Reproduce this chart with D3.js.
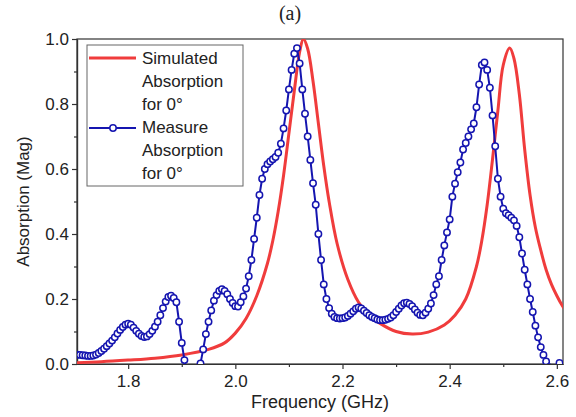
<!DOCTYPE html>
<html>
<head>
<meta charset="utf-8">
<script src="https://cdn.jsdelivr.net/npm/d3@7"></script>
<style>
  body { margin: 0; background: #fff; }
  text { font-family: "Liberation Sans", Arial, sans-serif; fill: #222; }
</style>
</head>
<body>
<div class="canvas"></div>
<script>
// simulated absorption (red line)
const simFreq = [1.70, 1.75, 1.80, 1.85, 1.90, 1.95, 1.98, 2.00, 2.02, 2.04, 2.06, 2.07, 2.08, 2.09,
  2.10, 2.11, 2.12, 2.127, 2.135, 2.145, 2.155, 2.165, 2.175, 2.19, 2.21, 2.23, 2.25, 2.27, 2.30,
  2.33, 2.36, 2.39, 2.41, 2.43, 2.45, 2.46, 2.47, 2.48, 2.49, 2.50, 2.512, 2.52, 2.53, 2.54, 2.55,
  2.56, 2.57, 2.58, 2.59, 2.60, 2.61, 2.62];
const simAbs = [0.004, 0.007, 0.012, 0.018, 0.028, 0.045, 0.065, 0.095, 0.14, 0.21, 0.31, 0.38, 0.47, 0.58,
  0.71, 0.84, 0.96, 1.0, 0.97, 0.87, 0.74, 0.61, 0.50, 0.37, 0.26, 0.19, 0.15, 0.125, 0.10,
  0.092, 0.098, 0.12, 0.15, 0.20, 0.30, 0.38, 0.49, 0.63, 0.78, 0.92, 0.972, 0.94, 0.83, 0.66, 0.52,
  0.42, 0.35, 0.29, 0.245, 0.21, 0.18, 0.155];

// measured absorption (blue markers), one sample every 5 MHz from 1.70 GHz
const measStart = 1.70, measStep = 0.005;
const measAbs = [
  0.030, 0.029, 0.028, 0.027, 0.026, 0.025, 0.025, 0.026, 0.029, 0.034,   // 1.700
  0.040, 0.047, 0.055, 0.063, 0.072, 0.082, 0.094, 0.105, 0.114, 0.121,   // 1.750
  0.124, 0.121, 0.112, 0.102, 0.093, 0.086, 0.083, 0.085, 0.092, 0.102,   // 1.800
  0.115, 0.130, 0.150, 0.172, 0.192, 0.206, 0.210, 0.203, 0.190, 0.130,   // 1.850
  0.065, 0.012, -0.04, -0.08, -0.10, -0.09, -0.05, 0.002, 0.045, 0.092,   // 1.900
  0.130, 0.165, 0.195, 0.212, 0.225, 0.230, 0.225, 0.215, 0.200, 0.188,   // 1.950
  0.178, 0.177, 0.190, 0.208, 0.232, 0.270, 0.320, 0.385, 0.450, 0.520,   // 2.000
  0.570, 0.600, 0.615, 0.623, 0.630, 0.637, 0.650, 0.678, 0.725, 0.780,   // 2.050
  0.845, 0.905, 0.955, 0.972, 0.925, 0.845, 0.770, 0.700, 0.628, 0.556,   // 2.100
  0.490, 0.400, 0.320, 0.245, 0.200, 0.172, 0.155, 0.145, 0.141, 0.140,   // 2.150
  0.141, 0.143, 0.148, 0.155, 0.162, 0.170, 0.174, 0.171, 0.164, 0.157,   // 2.200
  0.150, 0.145, 0.141, 0.137, 0.135, 0.135, 0.136, 0.139, 0.143, 0.150,   // 2.250
  0.160, 0.170, 0.180, 0.187, 0.189, 0.185, 0.178, 0.168, 0.158, 0.151,   // 2.300
  0.150, 0.158, 0.170, 0.186, 0.212, 0.245, 0.270, 0.320, 0.365, 0.405,   // 2.350
  0.445, 0.515, 0.555, 0.590, 0.620, 0.660, 0.680, 0.700, 0.722, 0.740,   // 2.400
  0.790, 0.860, 0.920, 0.928, 0.905, 0.850, 0.765, 0.670, 0.570, 0.515,   // 2.450
  0.478, 0.464, 0.458, 0.450, 0.442, 0.425, 0.390, 0.340, 0.290, 0.245,   // 2.500
  0.200, 0.160, 0.118, 0.082, 0.052, 0.028, 0.008, -0.01, -0.03, -0.03,   // 2.550
  -0.02, 0.003, -0.02                                                     // 2.600
];

const xTicks = [1.8, 2.0, 2.2, 2.4, 2.6];
const xMinor = [1.9, 2.1, 2.3, 2.5];
const yTicks = [0.0, 0.2, 0.4, 0.6, 0.8, 1.0];
const yMinor = [0.1, 0.3, 0.5, 0.7, 0.9];

const legendLines = [
  ['Simulated', 'Absorption', 'for 0°'],
  ['Measure', 'Absorption', 'for 0°']
];

const simData = simFreq.map((f, i) => ({f: f, v: simAbs[i]}));
const measData = measAbs.map((v, i) => ({f: measStart + i * measStep, v: v}));

var margin = {top: 39, right: 13, bottom: 53, left: 77},
  width = 576 - margin.left - margin.right,
  height = 417 - margin.top - margin.bottom;

var svg = d3.select('.canvas')
  .append('svg')
  .attr('width', 576)
  .attr('height', 417);

const graph = svg.append('g')
  .attr('transform', `translate(${margin.left},${margin.top})`);

// scales
const x = d3.scaleLinear().domain([1.7045, 2.6115]).range([0, width]);
const y = d3.scaleLinear().domain([0, 1.0]).range([height, 0]);

graph.append('clipPath')
  .attr('id', 'plot-clip')
  .append('rect')
    .attr('width', width)
    .attr('height', height);

// axes
const xAxisGroup = graph.append('g')
  .attr('transform', `translate(0, ${height})`)
  .call(d3.axisBottom(x).tickValues(xTicks).tickFormat(d3.format('.1f')).tickSize(5).tickSizeOuter(0));
graph.append('g')
  .attr('transform', `translate(0, ${height})`)
  .call(d3.axisBottom(x).tickValues(xMinor).tickFormat('').tickSize(3).tickSizeOuter(0));

const yAxisGroup = graph.append('g')
  .call(d3.axisLeft(y).tickValues(yTicks).tickFormat(d3.format('.1f')).tickSize(5).tickSizeOuter(0));
graph.append('g')
  .call(d3.axisLeft(y).tickValues(yMinor).tickFormat('').tickSize(3).tickSizeOuter(0));

graph.selectAll('.domain, .tick line').attr('stroke', '#333').attr('stroke-width', 1.2);
xAxisGroup.selectAll('text').style('font-size', '17px').attr('dy', '0.9em');
yAxisGroup.selectAll('text').style('font-size', '17px').attr('x', -8);

// frame
graph.append('rect')
  .attr('width', width)
  .attr('height', height)
  .attr('fill', 'none')
  .attr('stroke', '#333')
  .attr('stroke-width', 1.2);

// curves
const plot = graph.append('g').attr('clip-path', 'url(#plot-clip)');

const simLine = d3.line()
  .x(d => x(d.f))
  .y(d => y(d.v))
  .curve(d3.curveCatmullRom);

plot.append('path')
  .datum(simData)
  .attr('fill', 'none')
  .attr('stroke', '#f03c3c')
  .attr('stroke-width', 3)
  .attr('d', simLine);

const measLine = d3.line()
  .x(d => x(d.f))
  .y(d => y(d.v));

plot.append('path')
  .datum(measData)
  .attr('fill', 'none')
  .attr('stroke', '#1515b0')
  .attr('stroke-width', 2)
  .attr('d', measLine);

plot.selectAll('circle')
  .data(measData)
  .enter()
  .append('circle')
    .attr('cx', d => x(d.f))
    .attr('cy', d => y(d.v))
    .attr('r', 3.2)
    .attr('fill', '#fff')
    .attr('stroke', '#1515b0')
    .attr('stroke-width', 1.5);

// legend
const legend = svg.append('g').attr('transform', 'translate(87,45)');
legend.append('rect')
  .attr('width', 156)
  .attr('height', 141)
  .attr('fill', '#fff')
  .attr('stroke', '#666')
  .attr('stroke-width', 1);

legend.append('line')
  .attr('x1', 2).attr('x2', 49).attr('y1', 13).attr('y2', 13)
  .attr('stroke', '#f03c3c').attr('stroke-width', 3);
legend.append('line')
  .attr('x1', 2).attr('x2', 49).attr('y1', 83).attr('y2', 83)
  .attr('stroke', '#1515b0').attr('stroke-width', 2);
legend.append('circle')
  .attr('cx', 26).attr('cy', 83).attr('r', 3.2)
  .attr('fill', '#fff').attr('stroke', '#1515b0').attr('stroke-width', 1.5);

legendLines.forEach((lines, k) => {
  lines.forEach((t, j) => {
    legend.append('text')
      .attr('x', 55)
      .attr('y', 19 + k * 69 + j * 23)
      .style('font-size', '17px')
      .text(t);
  });
});

// labels
svg.append('text')
  .attr('x', margin.left + width / 2)
  .attr('y', 408)
  .attr('text-anchor', 'middle')
  .style('font-size', '18px')
  .text('Frequency (GHz)');

svg.append('text')
  .attr('transform', `translate(29, ${margin.top + height / 2}) rotate(-90)`)
  .attr('text-anchor', 'middle')
  .style('font-size', '17px')
  .text('Absorption (Mag)');

svg.append('text')
  .attr('x', 290)
  .attr('y', 20)
  .attr('text-anchor', 'middle')
  .style('font-family', '"Liberation Serif", "Times New Roman", serif')
  .style('font-size', '20px')
  .text('(a)');
</script>
</body>
</html>
